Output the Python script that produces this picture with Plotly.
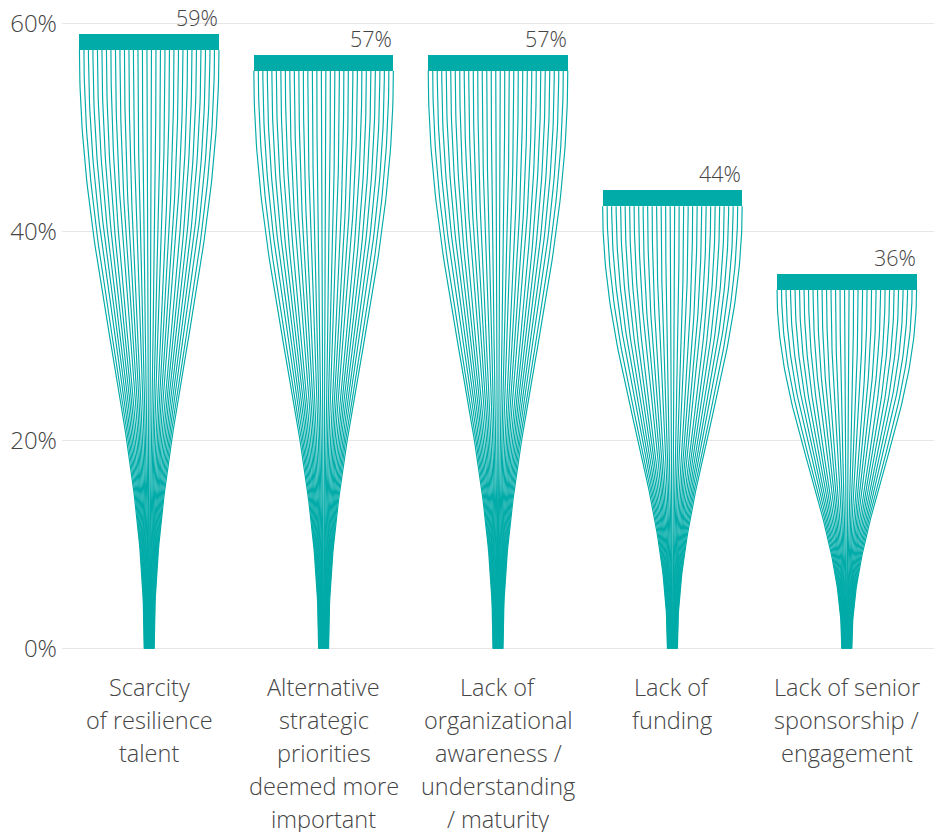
import numpy as np
import plotly.graph_objects as go

# Survey results: share of respondents citing each barrier
categories = [
    "Scarcity<br>of resilience<br>talent",
    "Alternative<br>strategic<br>priorities<br>deemed more<br>important",
    "Lack of<br>organizational<br>awareness /<br>understanding<br>/ maturity",
    "Lack of<br>funding",
    "Lack of senior<br>sponsorship /<br>engagement",
]
values = [59, 57, 57, 44, 36]
y_tickvals = [0, 20, 40, 60]
y_ticktext = ["0%", "20%", "40%", "60%"]

TEAL = "#00aba8"
TEXT = "#444444"
GRID = "#e6e6e6"
FONT = "Open Sans"

BAR_W = 0.80        # full width of the cap, in category units
STEM_W = 0.057      # width of the stem at the baseline
CAP_H = 1.55        # thickness of the cap, in percentage points
N_STRANDS = 32      # strands per fan
N_PTS = 80          # points per strand

fig = go.Figure()

# Fan of strands: each one leaves the narrow stem and flares out to meet the cap
t = np.linspace(0, 1, N_PTS)
flare = np.sin(np.pi * t / 2) ** 2
for i, v in enumerate(values):
    top = v - CAP_H
    xs, ys = [], []
    for k in range(N_STRANDS):
        u = k / (N_STRANDS - 1) - 0.5
        x_bot = i + u * STEM_W
        x_top = i + u * BAR_W
        xs.extend(list(x_bot + (x_top - x_bot) * flare) + [None])
        ys.extend(list(t * top) + [None])
    fig.add_trace(go.Scatter(
        x=xs, y=ys, mode="lines",
        line=dict(color=TEAL, width=1.15),
        hoverinfo="skip", showlegend=False,
    ))

# Solid cap at the top of each fan
fig.add_trace(go.Bar(
    x=list(range(len(values))),
    y=[CAP_H] * len(values),
    base=[v - CAP_H for v in values],
    width=BAR_W,
    marker=dict(color=TEAL, line=dict(width=0)),
    hoverinfo="skip", showlegend=False,
))

# Value labels, right-aligned to each cap
for i, v in enumerate(values):
    fig.add_annotation(
        x=i + BAR_W / 2, y=v, xref="x", yref="y",
        text=f"{v}%", showarrow=False,
        xanchor="right", yanchor="bottom", xshift=1, yshift=0,
        font=dict(family=FONT, size=21.5, color=TEXT, weight=300),
    )

# Category labels below the axis, one line at a time for looser leading
LINE_STEP = 33
FIRST_LINE = 33
for i, label in enumerate(categories):
    for j, line in enumerate(label.split("<br>")):
        fig.add_annotation(
            x=i, y=0, xref="x", yref="paper",
            text=line, showarrow=False,
            xanchor="center", yanchor="middle",
            yshift=-(FIRST_LINE + j * LINE_STEP),
            font=dict(family=FONT, size=23.5, color=TEXT, weight=300),
        )

fig.update_layout(
    width=938, height=832,
    margin=dict(l=62, r=4, t=13, b=178),
    paper_bgcolor="white", plot_bgcolor="white",
    bargap=0,
    xaxis=dict(
        range=[-0.5, 4.5], showticklabels=False, showgrid=False,
        zeroline=False, showline=False, ticks="",
    ),
    yaxis=dict(
        range=[-0.5, 61], tickvals=y_tickvals, ticktext=y_ticktext,
        showgrid=True, gridcolor=GRID, gridwidth=1,
        zeroline=False, showline=False, ticks="",
        tickfont=dict(family=FONT, size=24, color=TEXT, weight=300),
        ticklabelstandoff=4,
    ),
)

fig.write_html("out.html")
